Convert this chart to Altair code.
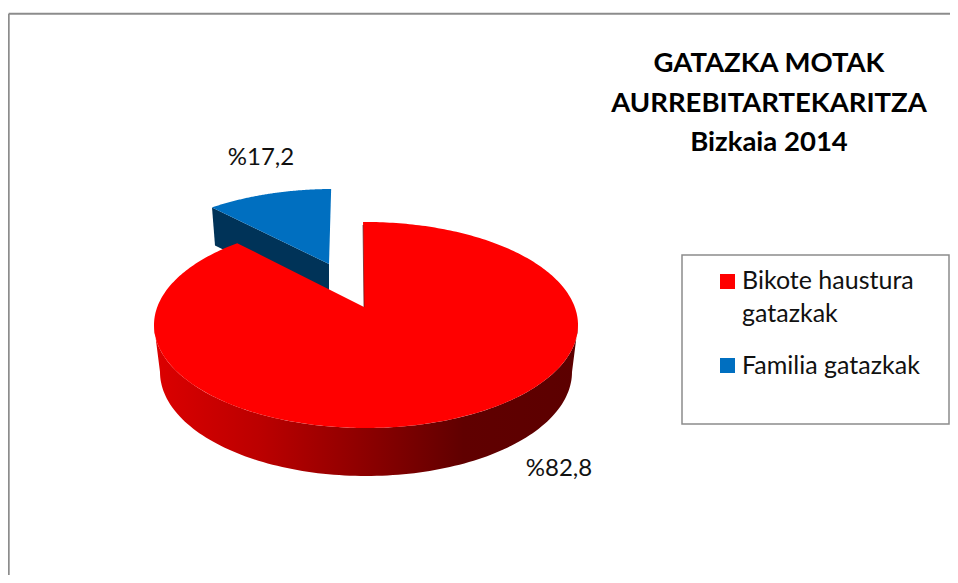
import math
import altair as alt
import pandas as pd

# --- chart values ---
categories = ["Bikote haustura gatazkak", "Familia gatazkak"]
legend_lines = [["Bikote haustura", "gatazkak"], ["Familia gatazkak"]]
share_labels = ["%82,8", "%17,2"]
# sweep of each slice as drawn on the tilted disc, degrees clockwise from 12 o'clock
slice_start_deg = [-0.8, -34.8]
slice_sweep_deg = [323.4, 34.3]
title_lines = ["GATAZKA MOTAK", "AURREBITARTEKARITZA", "Bizkaia 2014"]

# --- style / layout ---
RED, BLUE, BLUE_DARK = "#ff0000", "#006fc0", "#003358"
FRAME = "#8c8c8c"
FONT = "Lato"
W, H = 942, 567
X = alt.Scale(domain=[8, 950], nice=False, zero=False)
Y = alt.Scale(domain=[575, 8], nice=False, zero=False)
cx, cy, rx, ry = 366, 325, 212, 103       # top face of the disc
bcx, bcy, brx, bry = 366, 372, 206, 104   # bottom rim
apex = (364, 307)                         # perspective apex of the red slice
blue_off = (-33, -33)                     # explosion of the blue slice
blue_apex = (329, 264)
blue_depth = 38


def ell(t, c_x, c_y, r_x, r_y):
    a = math.radians(t)
    return c_x + r_x * math.sin(a), c_y - r_y * math.cos(a)


def arc(t0, sweep, c_x, c_y, r_x, r_y, n=120):
    return [ell(t0 + sweep * i / n, c_x, c_y, r_x, r_y) for i in range(n + 1)]


def polygon(points, **mark):
    closed = list(points) + [points[0]]
    df = pd.DataFrame({"x": [p[0] for p in closed], "y": [p[1] for p in closed], "i": range(len(closed))})
    return alt.Chart(df).mark_line(interpolate="linear", strokeWidth=0, **mark).encode(
        x=alt.X("x:Q", scale=X, axis=None),
        y=alt.Y("y:Q", scale=Y, axis=None),
        order="i:Q",
    )


def text_layer(txt, x, y, size, bold=False, align="center", color="#111111"):
    df = pd.DataFrame({"x": [x], "y": [y], "t": [txt]})
    return alt.Chart(df).mark_text(
        font=FONT, fontSize=size, fontWeight="bold" if bold else "normal",
        align=align, baseline="middle", color=color,
    ).encode(x=alt.X("x:Q", scale=X, axis=None), y=alt.Y("y:Q", scale=Y, axis=None), text="t:N")


# blue exploded slice
b_t0, b_sw = slice_start_deg[1], slice_sweep_deg[1]
b_cx, b_cy = cx + blue_off[0], cy + blue_off[1]
b_arc = arc(b_t0, b_sw, b_cx, b_cy, rx, ry)
b_left = b_arc[0]
blue_side = polygon(
    [b_left, blue_apex, (blue_apex[0], blue_apex[1] + blue_depth), (b_left[0] + 3, b_left[1] + blue_depth)],
    fill=BLUE_DARK,
)
blue_top = polygon(b_arc + [blue_apex], fill=BLUE)

# red disc wall with the horizontal shading
wall_grad = alt.LinearGradient(
    gradient="linear",
    stops=[
        alt.GradientStop(offset=0.0, color="#dc0000"),
        alt.GradientStop(offset=0.25, color="#bb0000"),
        alt.GradientStop(offset=0.5, color="#8c0000"),
        alt.GradientStop(offset=0.73, color="#600000"),
        alt.GradientStop(offset=1.0, color="#5c0000"),
    ],
    x1=0, x2=1, y1=0, y2=0,
)
wall = polygon(arc(90, 180, cx, cy, rx, ry) + arc(270, -180, bcx, bcy, brx, bry), fill=wall_grad)

# red top face
r_t0, r_sw = slice_start_deg[0], slice_sweep_deg[0]
r_arc = arc(r_t0, r_sw, cx, cy, rx, ry, n=360)
red_top = polygon(r_arc + [apex], fill=RED)
inner_edge = alt.Chart(pd.DataFrame({"x": [r_arc[0][0], apex[0]], "y": [r_arc[0][1] + 3, apex[1]], "i": [0, 1]})).mark_line(
    color="#5a1a1a", strokeWidth=1, opacity=0.7
).encode(x=alt.X("x:Q", scale=X, axis=None), y=alt.Y("y:Q", scale=Y, axis=None), order="i:Q")

# outer frame (open towards right and bottom of the photo)
frame_h = alt.Chart(pd.DataFrame({"x": [8.7], "x2": [950], "y": [13.8]})).mark_rule(color=FRAME, strokeWidth=2).encode(
    x=alt.X("x:Q", scale=X, axis=None), x2="x2:Q", y=alt.Y("y:Q", scale=Y, axis=None))
frame_v = alt.Chart(pd.DataFrame({"x": [8.7], "y": [13.8], "y2": [575]})).mark_rule(color=FRAME, strokeWidth=2).encode(
    x=alt.X("x:Q", scale=X, axis=None), y=alt.Y("y:Q", scale=Y, axis=None), y2="y2:Q")

# legend
legend_box = alt.Chart(pd.DataFrame({"x": [682], "x2": [949], "y": [255], "y2": [424]})).mark_rect(
    fill="white", stroke=FRAME, strokeWidth=1.5
).encode(x=alt.X("x:Q", scale=X, axis=None), x2="x2:Q", y=alt.Y("y:Q", scale=Y, axis=None), y2="y2:Q")
swatch_df = pd.DataFrame({"x": [727.5, 727.5], "y": [281.5, 365.5], "c": categories})
swatches = alt.Chart(swatch_df).mark_square(size=225, opacity=1).encode(
    x=alt.X("x:Q", scale=X, axis=None), y=alt.Y("y:Q", scale=Y, axis=None),
    color=alt.Color("c:N", scale=alt.Scale(domain=categories, range=[RED, BLUE]), legend=None),
)

LEG = 25
layers = [
    frame_h, frame_v, blue_side, blue_top, wall, red_top, inner_edge, legend_box, swatches,
    text_layer(legend_lines[0][0], 742, 281, LEG, align="left"),
    text_layer(legend_lines[0][1], 742, 314, LEG, align="left"),
    text_layer(legend_lines[1][0], 742, 366, LEG, align="left"),
    text_layer(share_labels[0], 559, 469, 24),
    text_layer(share_labels[1], 261, 158, 24),
    text_layer(title_lines[0], 769, 63.5, 27.5, bold=True, color="#000000"),
    text_layer(title_lines[1], 769, 103.5, 27.5, bold=True, color="#000000"),
    text_layer(title_lines[2], 769, 143, 27.5, bold=True, color="#000000"),
]

chart = alt.layer(*layers).properties(
    width=W, height=H, padding=0, background="white",
    autosize=alt.AutoSizeParams(type="none"),
).configure_view(stroke=None)
chart.save("out.html", embed_options={"renderer": "svg", "actions": False})
